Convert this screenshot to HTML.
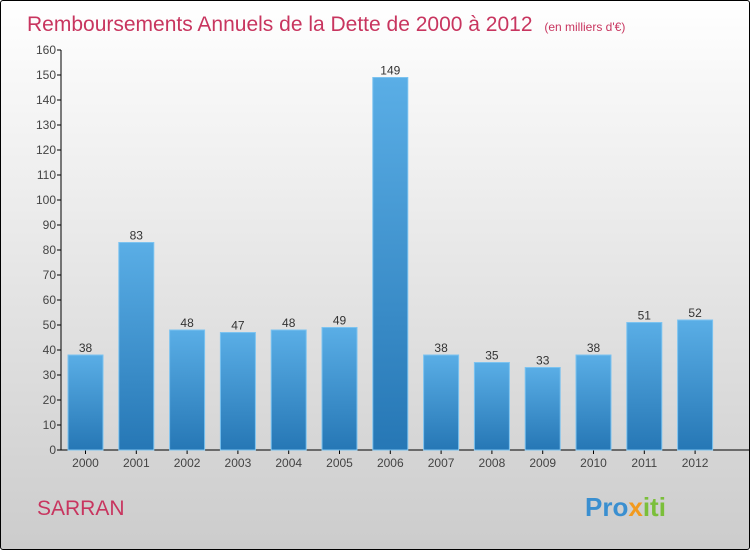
<!DOCTYPE html>
<html><head><meta charset="utf-8"><style>
body{margin:0}
#c{position:relative;width:748px;height:548px;border:1px solid #000;border-radius:3px;background:linear-gradient(#ffffff,#cccccc);font-family:"Liberation Sans",sans-serif;overflow:hidden}
</style></head><body>
<div id="c">
<svg width="748" height="548" style="position:absolute;left:0;top:0">
<defs><linearGradient id="bg" x1="0" y1="0" x2="0" y2="1"><stop offset="0" stop-color="#5aaee6"/><stop offset="1" stop-color="#2677b5"/></linearGradient></defs>
<text x="26" y="30" font-size="21" fill="#c8355f">Remboursements Annuels de la Dette de 2000 à 2012 <tspan font-size="12" dx="6">(en milliers d'€)</tspan></text>
<g id="axes"></g><g id="bars"></g>
<text x="36" y="514" font-size="21" fill="#c8355f">SARRAN</text>
<text x="584" y="515" font-size="26" font-weight="bold" fill="#3a8fd0">Pro<tspan fill="#f29a1e">x</tspan><tspan fill="#7bbf3a">iti</tspan></text>
</svg></div>
<script>
const categories=["2000","2001","2002","2003","2004","2005","2006","2007","2008","2009","2010","2011","2012"];
const values=[38,83,48,47,48,49,149,38,35,33,38,51,52];
const ticks=[0,10,20,30,40,50,60,70,80,90,100,110,120,130,140,150,160];
const NS="http://www.w3.org/2000/svg";
const y0=449,ppu=2.5,x0=84.5,step=50.8,bw=35;
const yS=v=>y0-v*ppu, xS=i=>x0+i*step;
function mk(t,a,p){const e=document.createElementNS(NS,t);for(const k in a)e.setAttribute(k,a[k]);p.appendChild(e);return e;}
const ax=document.getElementById('axes'),bg=document.getElementById('bars');
const yl=mk('line',{x1:60,y1:yS(160),x2:60,y2:y0,stroke:'#000'},ax);


const xl=mk('line',{x1:60,y1:y0,x2:748,y2:y0,stroke:'#000'},ax);


ticks.forEach(t=>{
 mk('line',{x1:56,x2:60,y1:yS(t),y2:yS(t),stroke:'#000'},ax);
 const tx=mk('text',{x:55,y:yS(t)+4,'text-anchor':'end','font-size':12,fill:'#444'},ax);
 tx.textContent=t;
 
 
});
categories.forEach((c,i)=>{
 const x=xS(i),v=values[i];
 const r=mk('rect',{x:x-bw/2,y:yS(v),width:bw,height:v*ppu,fill:'url(#bg)',stroke:'#7cc3f0','stroke-width':1},bg);
 
 
 const l=mk('text',{x:x,y:yS(v)-3,'text-anchor':'middle','font-size':12,fill:'#333'},bg);
 l.textContent=v;
 
 
 mk('line',{x1:x,x2:x,y1:y0,y2:y0+4,stroke:'#000'},ax);
 const xt=mk('text',{x:x,y:466,'text-anchor':'middle','font-size':12,fill:'#444'},ax);
 xt.textContent=c;
 
 
});
</script>
</body></html>
